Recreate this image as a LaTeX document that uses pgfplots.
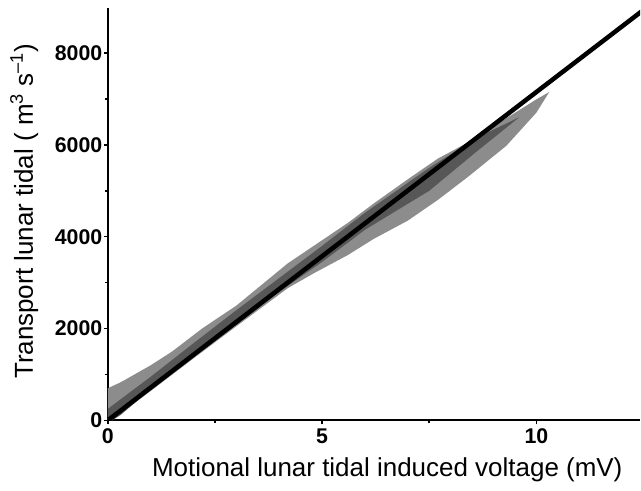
\documentclass[border=0pt]{standalone}
\usepackage{pgfplots}
\pgfplotsset{compat=1.18}
\usepackage{fontspec}
\setmainfont{Liberation Sans}
\begin{document}
\begin{tikzpicture}
\begin{axis}[
  scale only axis,
  width=399.75pt, height=309.75pt,
  xmin=0, xmax=12.42, ymin=0, ymax=8980,
  axis lines=left,
  axis line style={-, line width=1.4pt},
  xtick={0,5,10}, minor xtick={2.5,7.5},
  ytick={0,2000,4000,6000,8000}, minor ytick={1000,3000,5000,7000},
  tick align=outside,
  major tick length=3pt, minor tick length=2pt,
  tick style={line width=1.2pt, black},
  /pgf/number format/assume math mode=true,
  scaled y ticks=false,
  yticklabel style={/pgf/number format/1000 sep={}, inner xsep=1pt, font=\fontsize{16}{17}\selectfont\bfseries},
  xticklabel style={font=\fontsize{16}{17}\selectfont\bfseries},
  xlabel={Motional lunar tidal induced voltage (mV)},
  ylabel={Transport lunar tidal ( m\textsuperscript{3} s\textsuperscript{\textendash1})},
  label style={font=\fontsize{19.5}{21}\selectfont},
  xlabel style={at={(axis description cs:0.525,-0.135)}, anchor=base},
  ylabel style={at={(axis description cs:-0.1407,0.507)}, anchor=base},
  clip=true,
]
% outer extent of the scattered points
\addplot[fill=black!45, draw=none] coordinates {
 (0,0) (0,700) (0.3,830) (1,1200) (1.5,1500) (2.2,2000) (3,2500) (4.2,3420)
 (5.6,4300) (6.2,4720) (7.0,5250) (7.7,5700) (8.4,6050) (9.3,6580) (10.0,6990) (10.3,7150)
 (10.0,6700) (9.3,5980) (8.4,5300) (7.7,4800) (7.0,4350) (6.2,3950) (5.6,3600)
 (4.8,3200) (4.2,2880) (3.0,2050) (2.0,1350) (1.0,640) (0.3,150) (0,0)
} -- cycle;
% densest part of the cloud, along the line
\addplot[fill=black!66, draw=none] coordinates {
 (0,0) (0,250) (1,950) (2,1680) (3,2400) (4,3100) (5,3800) (6,4520) (7.5,5500) (8.6,6150) (9.6,6600)
 (8.6,5850) (7.5,5000) (6,4150) (5,3450) (4,2800) (3,2080) (2,1380) (1,680) (0.3,120) (0.1,0)
} -- cycle;
\addplot[black, line width=3.4pt] coordinates {(0,0) (13,9295)};
\coordinate (O) at (rel axis cs:0,0);
\coordinate (T) at (rel axis cs:1,1);
\end{axis}
\path (O) ++(-81pt,-52.5pt) coordinate (BL);
\path (T) ++(0,6pt) coordinate (TR);
\path (BL) rectangle (TR);
\end{tikzpicture}
\end{document}
